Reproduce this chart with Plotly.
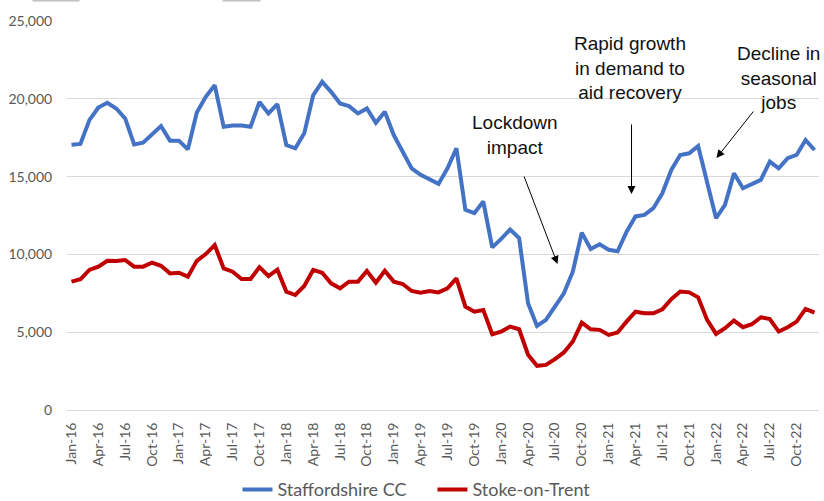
import plotly.graph_objects as go

month_names = ["Jan", "Feb", "Mar", "Apr", "May", "Jun", "Jul", "Aug", "Sep", "Oct", "Nov", "Dec"]
years = ["16", "17", "18", "19", "20", "21", "22"]
months = [f"{m}-{y}" for y in years for m in month_names]
tick_labels = [m for i, m in enumerate(months) if i % 3 == 0]

staffordshire = [
    17050, 17100, 18630, 19440, 19740, 19380, 18740, 17070, 17180, 17730, 18250, 17310,
    17310, 16750, 19120, 20130, 20880, 18200, 18290, 18290, 18200, 19800, 19060, 19660,
    17030, 16820, 17780, 20230, 21090, 20450, 19700, 19530, 19060, 19380, 18460, 19170,
    17670, 16600, 15530, 15110, 14790, 14530, 15530, 16820, 12860, 12650, 13400, 10450,
    11000, 11600, 11050, 6860, 5400, 5790, 6650, 7500, 8890, 11400, 10350, 10650,
    10300, 10200, 11450, 12440, 12540, 12970, 13930, 15430, 16390, 16500, 16970, 14680,
    12330, 13180, 15210, 14250, 14510, 14790, 15960, 15530, 16180, 16390, 17350, 16710,
]
stoke = [
    8250, 8400, 9000, 9210, 9590, 9570, 9640, 9210, 9210, 9470, 9270, 8780,
    8820, 8570, 9590, 10020, 10600, 9100, 8890, 8420, 8420, 9180, 8610, 9020,
    7610, 7390, 7970, 9000, 8820, 8140, 7820, 8250, 8250, 8930, 8180, 8950,
    8250, 8100, 7650, 7540, 7650, 7560, 7820, 8460, 6650, 6320, 6430, 4870,
    5040, 5360, 5190, 3550, 2840, 2900, 3270, 3700, 4400, 5620, 5190, 5150,
    4830, 4980, 5680, 6320, 6220, 6220, 6470, 7120, 7610, 7560, 7240, 5790,
    4890, 5260, 5750, 5320, 5510, 5960, 5850, 5040, 5320, 5680, 6500, 6260,
]
y_ticks = [0, 5000, 10000, 15000, 20000, 25000]

fig = go.Figure()
fig.add_trace(go.Scatter(x=months, y=staffordshire, mode="lines", name="Staffordshire CC",
                         line=dict(color="#4472C4", width=4)))
fig.add_trace(go.Scatter(x=months, y=stoke, mode="lines", name="Stoke-on-Trent",
                         line=dict(color="#C00000", width=4)))

tick_font = dict(family="Lato, Carlito, sans-serif", size=14, color="#595959")
ann_font = dict(family="Liberation Sans, Arial, sans-serif", size=19, color="#111111")

annotations = [
    dict(text="Lockdown<br>impact", x=0.5964, y=0.7069),
    dict(text="Rapid growth<br>in demand to<br>aid recovery", x=0.7493, y=0.8792),
    dict(text="Decline in<br>seasonal<br>jobs", x=0.9461, y=0.8535),
]
ann_list = []
for a in annotations:
    ann_list.append(dict(text=a["text"], x=a["x"], y=a["y"], xref="paper", yref="paper",
                         xanchor="center", yanchor="middle", showarrow=False, font=ann_font))
arrows = [
    (0.6523, 0.3753, -34, -89),
    (0.7507, 0.5553, 0, -71),
    (0.8637, 0.6478, 38, -48),
]
for x, y, ax, ay in arrows:
    ann_list.append(dict(text="", x=x, y=y, xref="paper", yref="paper", ax=ax, ay=ay,
                         showarrow=True, arrowhead=2, arrowsize=1.6, arrowwidth=1,
                         arrowcolor="#000000", standoff=0))

fig.update_layout(
    width=824, height=501,
    margin=dict(l=67, r=5, t=21, b=91, pad=0, autoexpand=False),
    paper_bgcolor="white", plot_bgcolor="white",
    showlegend=True,
    legend=dict(orientation="h", x=0.486, xanchor="center", y=-0.205, yanchor="middle",
                font=dict(family="Lato, Carlito, sans-serif", size=18, color="#595959"),
                itemwidth=30, tracegroupgap=0, entrywidth=150),
    annotations=ann_list,
    shapes=[
        dict(type="line", xref="paper", yref="paper", x0=-0.0459, x1=0.0166, y0=1.0527, y1=1.0527,
             line=dict(color="#bfbfbf", width=2)),
        dict(type="line", xref="paper", yref="paper", x0=0.2068, x1=0.2573, y0=1.0527, y1=1.0527,
             line=dict(color="#bfbfbf", width=2)),
    ],
)
fig.update_xaxes(
    type="category", categoryorder="array", categoryarray=months,
    range=[-0.5, len(months) - 0.5],
    tickmode="array", tickvals=tick_labels, ticktext=tick_labels,
    tickangle=-90, tickfont=tick_font,
    ticks="outside", ticklen=6, tickcolor="rgba(0,0,0,0)",
    showgrid=False, showline=True, linecolor="#d9d9d9", linewidth=1, zeroline=False,
    automargin=False,
)
fig.update_yaxes(
    range=[0, 25000], tickvals=y_ticks, tickformat=",", tickfont=tick_font,
    ticks="outside", ticklen=11, tickcolor="rgba(0,0,0,0)",
    showgrid=True, gridcolor="#d9d9d9", gridwidth=1, zeroline=False, showline=False,
    automargin=False,
)

fig.write_html("out.html", config={"displayModeBar": False},
               post_script="document.body.style.margin='0';")
